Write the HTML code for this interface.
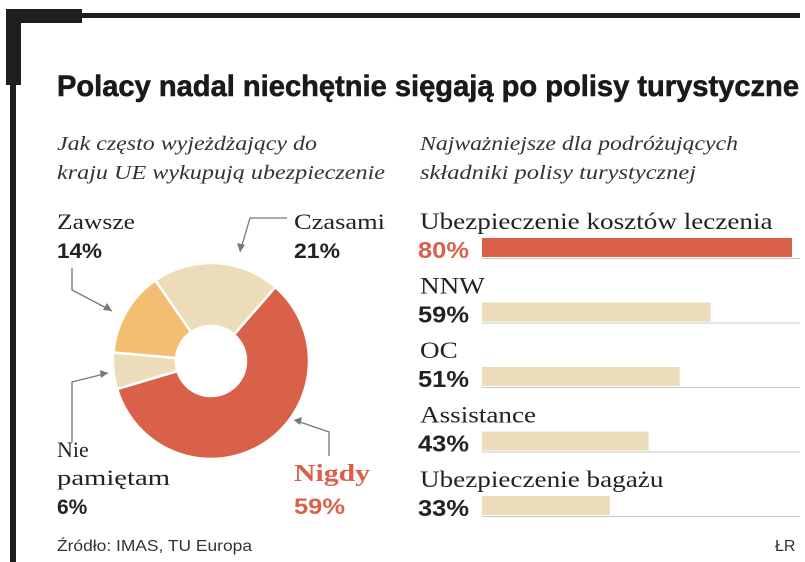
<!DOCTYPE html>
<html><head><meta charset="utf-8"><style>
html,body{margin:0;padding:0;background:#fff;}
svg{display:block;}
.serif{font-family:"Liberation Serif","DejaVu Serif",serif;}
.sans{font-family:"Liberation Sans","DejaVu Sans",sans-serif;}
</style></head><body>
<svg id="chart" width="805" height="562" viewBox="0 0 805 562">
  <g fill="#1e1e1e">
    <rect x="6" y="9" width="76" height="14"/>
    <rect x="6" y="9" width="15" height="76"/>
    <rect x="82" y="13" width="718" height="5"/>
    <rect x="10" y="85" width="6" height="477"/>
  </g>
  <text class="sans" x="57" y="96" font-size="30" font-weight="bold" fill="#1a1a1a" stroke="#1a1a1a" stroke-width="0.6" textLength="742" lengthAdjust="spacingAndGlyphs">Polacy nadal niechętnie sięgają po polisy turystyczne</text>
  <g class="serif" font-style="italic" font-size="20" fill="#333">
    <text x="57" y="150" textLength="260" lengthAdjust="spacingAndGlyphs">Jak często wyjeżdżający do</text>
    <text x="57" y="179" textLength="328" lengthAdjust="spacingAndGlyphs">kraju UE wykupują ubezpieczenie</text>
  </g>
  <g class="serif" font-style="italic" font-size="20" fill="#333">
    <text x="420" y="150" textLength="318" lengthAdjust="spacingAndGlyphs">Najważniejsze dla podróżujących</text>
    <text x="420" y="179" textLength="276" lengthAdjust="spacingAndGlyphs">składniki polisy turystycznej</text>
  </g>
  <g id="donut"></g>
  <g id="donut-labels">
    <text class="serif" x="57" y="229" font-size="22" fill="#222" textLength="78" lengthAdjust="spacingAndGlyphs">Zawsze</text>
    <text class="sans" x="57" y="258" font-size="21" font-weight="bold" fill="#222" textLength="45" lengthAdjust="spacingAndGlyphs">14%</text>
    <text class="serif" x="294" y="229" font-size="22" fill="#222" textLength="91" lengthAdjust="spacingAndGlyphs">Czasami</text>
    <text class="sans" x="294" y="258" font-size="21" font-weight="bold" fill="#222" textLength="46" lengthAdjust="spacingAndGlyphs">21%</text>
    <text class="serif" x="57" y="457" font-size="22" fill="#222">Nie</text>
    <text class="serif" x="57" y="485" font-size="22" fill="#222" textLength="113" lengthAdjust="spacingAndGlyphs">pamiętam</text>
    <text class="sans" x="57" y="514" font-size="21" font-weight="bold" fill="#222">6%</text>
    <text class="serif" x="294" y="481" font-size="24" font-weight="bold" fill="#d9614a" textLength="76" lengthAdjust="spacingAndGlyphs">Nigdy</text>
    <text class="sans" x="294" y="514" font-size="22" font-weight="bold" fill="#d9614a" textLength="51" lengthAdjust="spacingAndGlyphs">59%</text>
    <g fill="none" stroke="#777" stroke-width="1.3">
      <polyline points="72,268 72,290 112,311"/>
      <polyline points="287,218 250,218 240,252"/>
      <polyline points="72,442 72,382 108,373"/>
      <polyline points="329,456 329,432 294,420"/>
    </g>
    <g fill="#777">
      <polygon points="112,311 103,310 107,303"/>
      <polygon points="240,252 237,243 245,245"/>
      <polygon points="108,373 101,378 100,370"/>
      <polygon points="294,420 302,417 300,425"/>
    </g>
  </g>
  <g id="bars"></g>
  <text class="sans" x="57" y="551" font-size="16" fill="#333" textLength="195" lengthAdjust="spacingAndGlyphs">Źródło: IMAS, TU Europa</text>
  <text class="sans" x="775" y="551" font-size="16" fill="#333">ŁR</text>
</svg>
<script>
const donutCategories = ["Nigdy", "Nie pamiętam", "Zawsze", "Czasami"];
const donutValues = [59, 6, 14, 21];
const donutColors = ["#d9614a", "#ecdcb9", "#f2bf72", "#ecdcb9"];
const barCategories = ["Ubezpieczenie kosztów leczenia", "NNW", "OC", "Assistance", "Ubezpieczenie bagażu"];
const barValues = [80, 59, 51, 43, 33];
const barLabels = ["80%", "59%", "51%", "43%", "33%"];

const NS = "http://www.w3.org/2000/svg";
(function(){
  const g = document.getElementById('donut');
  const cx = 211, cy = 361, R = 98, r = 35, start = 41;
  const total = donutValues.reduce((a,b)=>a+b,0);
  let a0 = start;
  function pt(ang, rad){ const t = (ang-90)*Math.PI/180; return [cx+rad*Math.cos(t), cy+rad*Math.sin(t)]; }
  donutValues.forEach((v,i)=>{
    const a1 = a0 + v/total*360;
    const large = (a1-a0)>180?1:0;
    const p1=pt(a0,R), p2=pt(a1,R), p3=pt(a1,r), p4=pt(a0,r);
    const path = document.createElementNS(NS,'path');
    path.setAttribute('d',`M${p1[0]},${p1[1]} A${R},${R} 0 ${large} 1 ${p2[0]},${p2[1]} L${p3[0]},${p3[1]} A${r},${r} 0 ${large} 0 ${p4[0]},${p4[1]} Z`);
    path.setAttribute('fill', donutColors[i]);
    path.setAttribute('stroke','#fff');
    path.setAttribute('stroke-width','2.5');
    
    
    g.appendChild(path);
    a0 = a1;
  });
})();
(function(){
  const g = document.getElementById('bars');
  const x0 = 482, scale = 310/80, top0 = 238, step = 64.5, h = 19;
  const xs = v => x0 + v*scale;
  barValues.forEach((v,i)=>{
    const y = top0 + i*step;
    const cat = document.createElementNS(NS,'text');
    cat.setAttribute('x',420); cat.setAttribute('y',y-9);
    cat.setAttribute('class','serif'); cat.setAttribute('font-size','23'); cat.setAttribute('fill','#222');
    cat.textContent = barCategories[i];
    
    
    g.appendChild(cat);
    const w = cat.getComputedTextLength();
    if (w > 0) { cat.setAttribute('textLength', (w*1.18).toFixed(1)); cat.setAttribute('lengthAdjust','spacingAndGlyphs'); }
    const lab = document.createElementNS(NS,'text');
    lab.setAttribute('x',418); lab.setAttribute('y',y+20);
    lab.setAttribute('class','sans'); lab.setAttribute('font-size','23'); lab.setAttribute('font-weight','bold');
    lab.setAttribute('fill', i===0?'#d9614a':'#222');
    lab.setAttribute('textLength','51'); lab.setAttribute('lengthAdjust','spacingAndGlyphs');
    lab.textContent = barLabels[i];
    
    
    g.appendChild(lab);
    const line = document.createElementNS(NS,'line');
    line.setAttribute('x1',x0); line.setAttribute('x2',800);
    line.setAttribute('y1',y+h+1.5); line.setAttribute('y2',y+h+1.5);
    line.setAttribute('stroke','#c8c8c8'); line.setAttribute('stroke-width','1');
    
    
    g.appendChild(line);
    const rect = document.createElementNS(NS,'rect');
    rect.setAttribute('x',x0); rect.setAttribute('y',y);
    rect.setAttribute('width', xs(v)-x0); rect.setAttribute('height',h);
    rect.setAttribute('fill', i===0?'#d9614a':'#ecdcb9');
    
    
    g.appendChild(rect);
  });
})();
</script>
</body></html>
